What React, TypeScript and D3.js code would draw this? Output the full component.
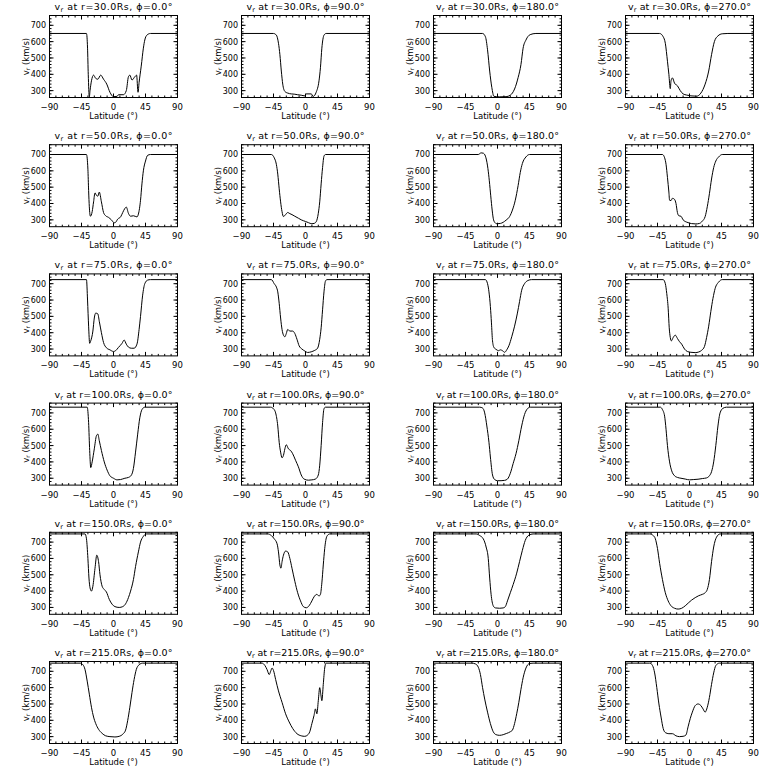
import React from "react";
import * as d3 from "d3";

const radii = [30, 50, 75, 100, 150, 215];
const phis = [0, 90, 180, 270];
const xTicks = [-90, -45, 0, 45, 90];
const yTicks = [300, 400, 500, 600, 700];

// Each series: [latitude (deg), v_r (km/s)]
const r30_p0 = [[-90,650],[-38,650],[-36.5,560],[-35.5,400],[-34,262],[-33,300],[-31,360],[-28,395],[-25,375],[-22,370],[-18,395],[-14,370],[-9.5,340],[-5,290],[0,263],[5,265],[7,275],[14,275],[18,300],[21,385],[23,395],[26,365],[30,385],[32.5,395],[34.5,290],[36,350],[39,450],[42,560],[44,610],[47,640],[52,650],[90,650]];
const r30_p90 = [[-90,650],[-45,650],[-41,640],[-38,590],[-36,520],[-34,420],[-32,340],[-29,295],[-25,285],[-20,280],[-15,278],[-11,275],[-6,272],[-1,268],[1,280],[8,280],[11,265],[15,290],[19,360],[21,440],[23,560],[26,640],[29,650],[90,650]];
const r30_p180 = [[-90,650],[-21,650],[-17,630],[-14,550],[-11,420],[-8,320],[-5,265],[3,262],[12,263],[18,272],[24,310],[29,380],[33,460],[36,560],[40,610],[46,643],[54,650],[90,650]];
const r30_p270 = [[-90,650],[-42,650],[-37,630],[-34,590],[-31,480],[-29,400],[-27,312],[-26,360],[-24,378],[-21,345],[-17,330],[-13,300],[-9,280],[-4,273],[2,268],[10,266],[16,285],[22,340],[27,420],[31,520],[35,600],[40,635],[46,648],[54,650],[90,650]];

const r50_p0 = [[-90,700],[-38,700],[-36,610],[-35,480],[-34,380],[-32.5,322],[-30,350],[-28,410],[-26,465],[-24,450],[-22,445],[-20,470],[-17,410],[-14,345],[-11,325],[-7,315],[-3,300],[1,282],[3,285],[6,305],[10,318],[13,345],[16,370],[18,378],[21,340],[24,322],[28,325],[33,318],[35,335],[38,420],[40,520],[42,600],[45,660],[48,695],[52,700],[90,700]];
const r50_p90 = [[-90,700],[-48,700],[-44,680],[-41,640],[-39,580],[-37,490],[-35,410],[-33,350],[-31,320],[-28,332],[-25,345],[-22,338],[-19,332],[-15,322],[-10,310],[-6,300],[0,290],[4,283],[9,276],[12,278],[15,288],[18,340],[20,410],[22,520],[24,620],[26,690],[28,700],[90,700]];
const r50_p180 = [[-90,700],[-27,700],[-23,710],[-20,708],[-17,690],[-14,630],[-12,560],[-10,470],[-8,380],[-6,310],[-4,285],[-1,276],[4,278],[8,285],[12,298],[17,320],[21,360],[25,420],[29,510],[32,590],[35,645],[40,685],[45,700],[90,700]];
const r50_p270 = [[-90,700],[-38,700],[-35,680],[-33,640],[-31,560],[-29,470],[-28,420],[-26,418],[-24,432],[-21,425],[-19,400],[-17,345],[-15,325],[-12,322],[-9,300],[-6,290],[-2,283],[3,277],[9,275],[14,278],[18,292],[22,320],[25,380],[28,460],[31,550],[34,620],[37,660],[41,685],[46,700],[90,700]];

const r75_p0 = [[-90,725],[-38,725],[-36.5,600],[-35,440],[-33.5,335],[-32,350],[-29,410],[-27,490],[-25,520],[-22,515],[-20,470],[-17,400],[-14,340],[-10,308],[-5,295],[0,285],[3,290],[7,310],[12,335],[15,355],[18,330],[21,312],[25,305],[29,305],[33,330],[36,420],[38,500],[41,630],[44,700],[48,722],[52,725],[90,725]];
const r75_p90 = [[-90,725],[-48,725],[-44,700],[-41,680],[-39,650],[-37,580],[-35,490],[-33,420],[-31,385],[-29,375],[-27,395],[-25,420],[-22,410],[-18,410],[-15,395],[-12,360],[-9,320],[-5,300],[-1,288],[3,279],[8,283],[13,292],[17,305],[20,360],[22,430],[24,540],[26,650],[28,715],[30,725],[90,725]];
const r75_p180 = [[-90,725],[-17,725],[-14,700],[-12,650],[-10,560],[-8.5,460],[-7,350],[-5,310],[-2,298],[1.5,290],[4,295],[7,290],[10,280],[13,295],[16,320],[20,375],[24,440],[28,520],[31,590],[34,660],[38,700],[43,720],[48,725],[90,725]];
const r75_p270 = [[-90,725],[-37,725],[-34,700],[-32,640],[-30,550],[-28.5,430],[-27,370],[-25.5,350],[-23,370],[-20,385],[-17,365],[-14,345],[-11,330],[-7,300],[-3,285],[2,280],[8,278],[13,282],[17,292],[21,315],[24,370],[27,440],[30,530],[33,610],[36,670],[41,710],[46,725],[90,725]];

const r100_p0 = [[-90,735],[-37,735],[-35,640],[-33.5,470],[-32,365],[-30,400],[-27,480],[-24,560],[-22,570],[-20,530],[-17,470],[-13,400],[-9,350],[-5,315],[0,300],[5,290],[10,292],[16,300],[21,305],[25,318],[28,360],[31,460],[34,570],[37,670],[40,720],[44,735],[90,735]];
const r100_p90 = [[-90,735],[-49,735],[-45,725],[-42,700],[-39,620],[-37,520],[-35,460],[-33,425],[-31,440],[-29,480],[-27,505],[-24,480],[-21,470],[-18,450],[-14,410],[-10,370],[-6,320],[-2,295],[4,288],[9,290],[14,295],[18,320],[20,380],[22,500],[24,640],[26,725],[28,735],[90,735]];
const r100_p180 = [[-90,735],[-25,735],[-21,730],[-18,700],[-15,620],[-12,520],[-10,430],[-7,320],[-4,292],[0,285],[5,285],[10,287],[14,295],[18,330],[22,390],[26,450],[30,530],[34,620],[38,690],[42,725],[46,735],[90,735]];
const r100_p270 = [[-90,735],[-41,735],[-38,720],[-35,680],[-33,600],[-31,500],[-28,400],[-25,345],[-21,315],[-17,305],[-12,300],[-6,295],[0,290],[6,292],[12,294],[18,298],[24,302],[28,315],[31,340],[34,400],[37,500],[40,620],[43,700],[47,728],[52,735],[90,735]];

const r150_p0 = [[-90,750],[-40,750],[-38,720],[-36,600],[-34.5,480],[-33,420],[-31,400],[-29,430],[-26,540],[-23.5,620],[-21,580],[-19,500],[-16,430],[-13,410],[-10,395],[-6,350],[-2,320],[2,305],[8,300],[13,305],[17,322],[21,360],[24,400],[28,470],[31,550],[35,640],[38,700],[42,735],[46,750],[90,750]];
const r150_p90 = [[-90,750],[-53,750],[-48,740],[-44,720],[-40,690],[-38,640],[-36,560],[-34.5,540],[-33,580],[-31,620],[-28,645],[-25,640],[-22,600],[-19,540],[-15,460],[-11,390],[-7,340],[-3,305],[1,298],[5,310],[9,340],[12,365],[16,380],[19,370],[21,380],[23,450],[25,560],[27,660],[30,735],[34,750],[90,750]];
const r150_p180 = [[-90,750],[-30,750],[-25,740],[-20,720],[-16,670],[-13,600],[-11,480],[-9,380],[-6,310],[-3,297],[3,295],[8,297],[11,305],[14,340],[18,390],[22,440],[27,510],[31,580],[35,650],[39,710],[44,742],[50,750],[90,750]];
const r150_p270 = [[-90,750],[-56,750],[-51,740],[-48,720],[-45,660],[-42,570],[-38,470],[-34,390],[-30,340],[-26,310],[-21,295],[-16,290],[-11,295],[-6,310],[-1,330],[3,345],[8,360],[13,372],[18,380],[22,390],[25,410],[28,470],[31,580],[34,670],[38,730],[43,750],[90,750]];

const r215_p0 = [[-90,750],[-47,750],[-43,740],[-40,710],[-37,640],[-34,560],[-31,480],[-28,420],[-25,380],[-21,345],[-16,320],[-11,305],[-5,300],[2,298],[8,302],[13,315],[17,340],[20,400],[23,480],[26,570],[29,650],[32,710],[36,740],[41,750],[90,750]];
const r215_p90 = [[-90,750],[-61,750],[-57,735],[-54,710],[-51,680],[-49,700],[-47,720],[-45,705],[-42,650],[-38,580],[-33,510],[-28,440],[-23,390],[-18,350],[-12,318],[-6,305],[-1,302],[3,310],[6,330],[9,380],[12,430],[14,470],[16,440],[18,520],[20,600],[21.5,560],[23,520],[25,620],[27,720],[29,750],[90,750]];
const r215_p180 = [[-90,750],[-36,750],[-31,745],[-27,725],[-24,680],[-21,600],[-18,530],[-14,450],[-10,380],[-6,330],[-2,312],[3,308],[8,312],[13,320],[18,330],[21,340],[24,380],[27,440],[30,510],[33,590],[36,660],[40,720],[45,748],[50,750],[90,750]];
const r215_p270 = [[-90,750],[-56,750],[-52,735],[-49,690],[-46,600],[-43,500],[-40,420],[-37,350],[-34,325],[-29,318],[-24,318],[-19,305],[-14,300],[-9,302],[-5,310],[-2,360],[1,410],[4,450],[8,490],[12,500],[16,490],[19,470],[22,450],[25,480],[28,540],[31,620],[34,690],[37,735],[42,750],[90,750]];

const seriesByPanel = [
  [r30_p0, r30_p90, r30_p180, r30_p270],
  [r50_p0, r50_p90, r50_p180, r50_p270],
  [r75_p0, r75_p90, r75_p180, r75_p270],
  [r100_p0, r100_p90, r100_p180, r100_p270],
  [r150_p0, r150_p90, r150_p180, r150_p270],
  [r215_p0, r215_p90, r215_p180, r215_p270],
];

const W = 768;
const H = 768;
const colPitch = 192;
const rowPitch = 129.2;
const plotLeft0 = 49.5;
const plotTop0 = 15.5;
const plotW = 128;
const plotH = 82;
const FONT = "DejaVu Sans, sans-serif";

function Panel({ r, c }: { r: number; c: number }) {
  const left = plotLeft0 + colPitch * c;
  const top = plotTop0 + rowPitch * r;
  const x = d3.scaleLinear().domain([-90, 90]).range([0, plotW]);
  const y = d3.scaleLinear().domain([258, 760]).range([plotH, 0]);
  const data = seriesByPanel[r][c] as number[][];
  const line = d3
    .line<number[]>()
    .x((d) => x(d[0]))
    .y((d) => y(d[1]))
    .curve(d3.curveMonotoneX);
  const xMinor = d3.range(-90, 90.01, 9);
  const yMinor = d3.range(280, 760.01, 20);
  const clipId = `clip-${r}-${c}`;
  const maj = 4;
  const mnr = 2;
  const titleLen = phis[c] >= 100 ? 123 : 118;
  return (
    <g transform={`translate(${left},${top})`}>
      <clipPath id={clipId}>
        <rect x={0} y={0} width={plotW} height={plotH} />
      </clipPath>
      <text
        x={plotW / 2}
        y={-5.5}
        textAnchor="middle"
        fontSize={9.5}
        fontFamily={FONT}
        textLength={titleLen}
        lengthAdjust="spacing"
      >
        v<tspan fontSize={6.5} dy={2}>r</tspan>
        <tspan dy={-2}> at r={radii[r].toFixed(1)}Rs, ϕ={phis[c].toFixed(1)}°</tspan>
      </text>
      <path
        d={line(data) || ""}
        fill="none"
        stroke="#000"
        strokeWidth={1}
        clipPath={`url(#${clipId})`}
      />
      <rect x={0} y={0} width={plotW} height={plotH} fill="none" stroke="#000" strokeWidth={1} />
      {xMinor.map((t) => (
        <g key={`xm${t}`}>
          <line x1={x(t)} x2={x(t)} y1={plotH} y2={plotH - mnr} stroke="#000" />
          <line x1={x(t)} x2={x(t)} y1={0} y2={mnr} stroke="#000" />
        </g>
      ))}
      {xTicks.map((t) => (
        <g key={`x${t}`}>
          <line x1={x(t)} x2={x(t)} y1={plotH} y2={plotH - maj} stroke="#000" />
          <line x1={x(t)} x2={x(t)} y1={0} y2={maj} stroke="#000" />
          <text
            x={x(t)}
            y={plotH + 12.5}
            textAnchor="middle"
            fontSize={8.5}
            fontFamily={FONT}
          >
            {t < 0 ? `\u2212${-t}` : `${t}`}
          </text>
        </g>
      ))}
      {yMinor.map((t) => (
        <g key={`ym${t}`}>
          <line x1={0} x2={mnr} y1={y(t)} y2={y(t)} stroke="#000" />
          <line x1={plotW} x2={plotW - mnr} y1={y(t)} y2={y(t)} stroke="#000" />
        </g>
      ))}
      {yTicks.map((t) => (
        <g key={`y${t}`}>
          <line x1={0} x2={maj} y1={y(t)} y2={y(t)} stroke="#000" />
          <line x1={plotW} x2={plotW - maj} y1={y(t)} y2={y(t)} stroke="#000" />
          <text
            x={-3.5}
            y={y(t) + 3}
            textAnchor="end"
            fontSize={8}
            fontFamily={FONT}
          >
            {t}
          </text>
        </g>
      ))}
      <text
        x={plotW / 2}
        y={plotH + 21.5}
        textAnchor="middle"
        fontSize={8.5}
        fontFamily={FONT}
      >
        Latitude (°)
      </text>
      <text
        transform={`translate(${-21},${plotH / 2}) rotate(-90)`}
        textAnchor="middle"
        fontSize={8.5}
        fontFamily={FONT}
      >
        v<tspan fontSize={6} dy={1.5}>r</tspan>
        <tspan dy={-1.5}> (km/s)</tspan>
      </text>
    </g>
  );
}

export default function App() {
  return (
    <svg
      width={W}
      height={H}
      style={{ position: "absolute", left: 0, top: 0, background: "#fff" }}
    >
      <rect x={0} y={0} width={W} height={H} fill="#fff" />
      {radii.map((_, r) =>
        phis.map((_, c) => <Panel key={`${r}-${c}`} r={r} c={c} />)
      )}
    </svg>
  );
}
